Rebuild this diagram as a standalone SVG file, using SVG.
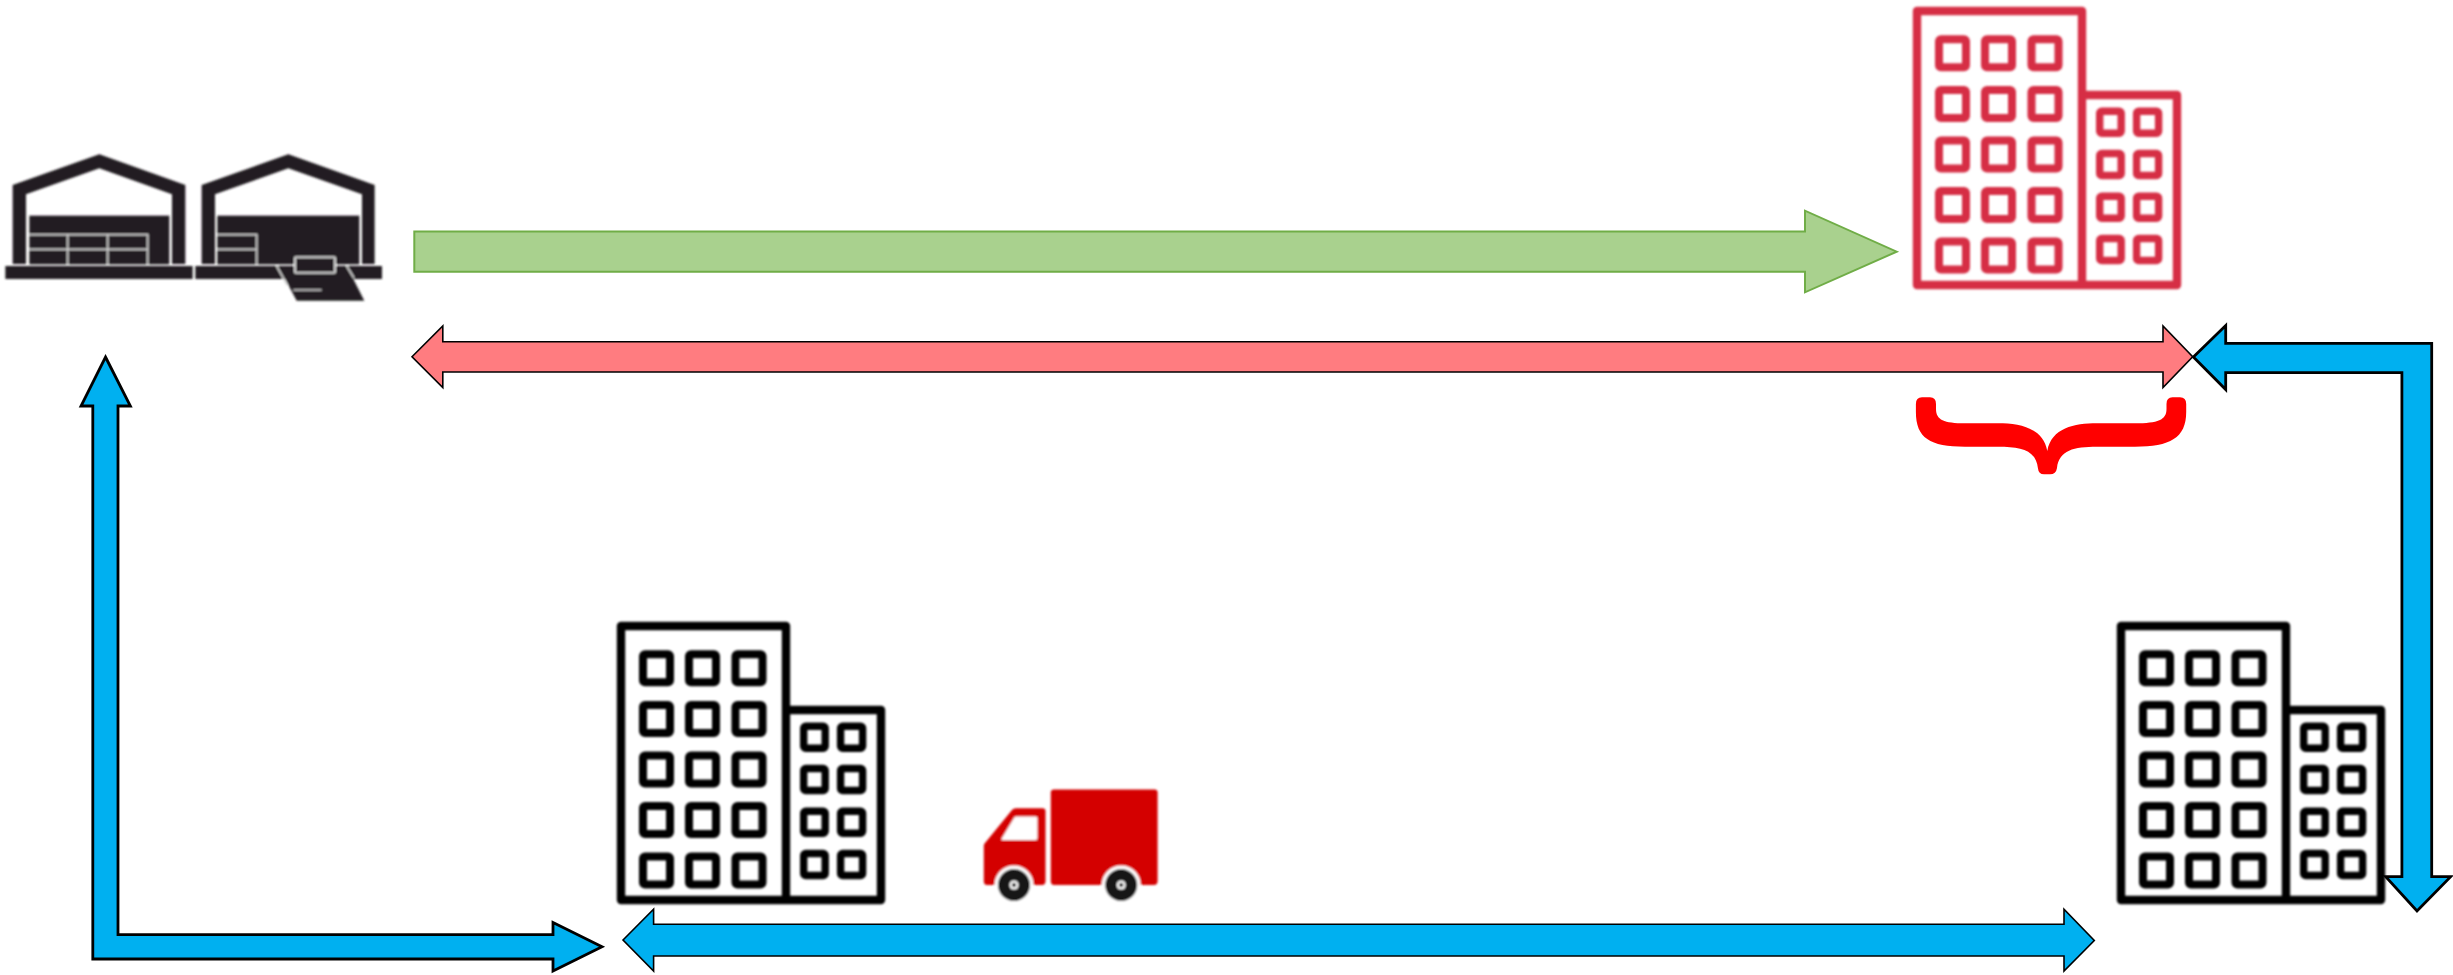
<svg xmlns="http://www.w3.org/2000/svg" width="2453" height="975" viewBox="0 0 2453 975">
<style>
.bl{fill:#00b0f0;stroke:#000;stroke-linejoin:miter}
.thick{stroke-width:2.800}
.thin{stroke-width:1.600}
.pink{fill:#ff7c80;stroke:#000;stroke-width:1.600}
.green{fill:#a9d18e;stroke:#70ad47;stroke-width:2}
.wh{fill:#231f20}
.wl{fill:none;stroke:#d4d4d4;stroke-width:5}
.b{fill:none;stroke:currentColor;stroke-linejoin:round}
.soft{filter:url(#soft)}
</style>
<defs>
<filter id="soft" x="-5%" y="-5%" width="110%" height="110%"><feGaussianBlur stdDeviation="0.900"/></filter>
<g id="bldg">
<path class="b" stroke-width="8.400" d="M4 4H169V278H4ZM169 88H264V278H169"/>
<g class="b" stroke-width="8">
<rect x="26" y="32.300" width="27" height="28" rx="2"/><rect x="72" y="32.300" width="27" height="28" rx="2"/><rect x="118.500" y="32.300" width="27" height="28" rx="2"/>
<rect x="26" y="83" width="27" height="28" rx="2"/><rect x="72" y="83" width="27" height="28" rx="2"/><rect x="118.500" y="83" width="27" height="28" rx="2"/>
<rect x="26" y="133.500" width="27" height="28" rx="2"/><rect x="72" y="133.500" width="27" height="28" rx="2"/><rect x="118.500" y="133.500" width="27" height="28" rx="2"/>
<rect x="26" y="184" width="27" height="28" rx="2"/><rect x="72" y="184" width="27" height="28" rx="2"/><rect x="118.500" y="184" width="27" height="28" rx="2"/>
<rect x="26" y="234.500" width="27" height="28" rx="2"/><rect x="72" y="234.500" width="27" height="28" rx="2"/><rect x="118.500" y="234.500" width="27" height="28" rx="2"/>
</g>
<g class="b" stroke-width="7.400">
<rect x="186.700" y="104.200" width="21.500" height="22" rx="2"/><rect x="223.600" y="104.200" width="22" height="22" rx="2"/>
<rect x="186.700" y="146.500" width="21.500" height="22" rx="2"/><rect x="223.600" y="146.500" width="22" height="22" rx="2"/>
<rect x="186.700" y="189.200" width="21.500" height="22" rx="2"/><rect x="223.600" y="189.200" width="22" height="22" rx="2"/>
<rect x="186.700" y="231.500" width="21.500" height="22" rx="2"/><rect x="223.600" y="231.500" width="22" height="22" rx="2"/>
</g>
</g>
</defs>
<rect width="2453" height="975" fill="#fff"/>
<g class="soft">
<g id="warehouses" transform="translate(0 140) scale(.33333)">
<g id="warehouse-left">
<path class="wh" d="M38 372V135L298 43 556 135V372H516V163L298 85 78 163V372Z"/>
<rect class="wh" x="88" y="227" width="420" height="146"/>
<rect class="wh" x="16" y="378" width="562" height="39"/>
<path class="wl" d="M88 284H443V372M88 328H443M203 284V372M323 284V372"/>
</g>
<g id="warehouse-right">
<path class="wh" d="M605 372V135L865 43 1124 135V372H1086V163L865 85 645 163V372Z"/>
<rect class="wh" x="652" y="227" width="426" height="146"/>
<rect class="wh" x="586" y="378" width="560" height="39"/>
<path class="wh" d="M835 378L890 482H1093L1040 378Z"/>
<path class="wl" d="M652 284H770V372M652 328H770M830 378L862 436M1040 378L1062 414M880 450H965"/>
<rect x="885" y="352" width="120" height="46" fill="#231f20" stroke="#d4d4d4" stroke-width="6" rx="2"/>
</g>
</g>
</g>
<g id="building-red" class="soft" color="#d62d45"><use href="#bldg" transform="translate(1913 7)"/></g>
<g id="building-left" class="soft" color="#000"><use href="#bldg" transform="translate(617 622)"/></g>
<g id="building-right" class="soft" color="#000"><use href="#bldg" transform="translate(2117 622)"/></g>
<g id="truck" class="soft">
<path fill="#d40000" d="M1054 789.400H1154.600Q1157.600 789.400 1157.600 792.400V881Q1157.600 885 1154 885H1054Q1050.800 885 1050.800 881V792.400Q1050.800 789.400 1054 789.400Z"/>
<path fill="#d40000" d="M1012 810Q1013.300 808.300 1016 808.300H1042.500Q1045.500 808.300 1045.500 811V881Q1045.500 885 1042 885H987Q983.800 885 983.800 881V846Q983.800 844 985 843Z"/>
<path fill="#fff" d="M1016 816.600H1035.500Q1037.400 816.600 1037.400 818.600V838Q1037.400 840 1035.500 840H1002.500Q1000.500 840 1002 838L1014 818Q1015 816.600 1016 816.600Z"/>
<circle cx="1014" cy="885" r="19.500" fill="#fff"/>
<circle cx="1121.200" cy="885" r="19.500" fill="#fff"/>
<circle cx="1014" cy="885" r="16" fill="#151515"/><circle cx="1014" cy="885" r="4.500" fill="#fff"/><circle cx="1014" cy="885" r="2.200" fill="#151515"/>
<circle cx="1121.200" cy="885" r="16" fill="#151515"/><circle cx="1121.200" cy="885" r="4.500" fill="#fff"/><circle cx="1121.200" cy="885" r="2.200" fill="#151515"/>
</g>
<g id="brace">
<path fill="#f00" d="M1915.900 404Q1915.900 397.300 1922 397.300H1930Q1936 397.300 1936 404V409C1936 420 1944 423.300 1965 423.300H1998C2020 423.300 2043 428 2047.300 451C2051.600 428 2074 423.300 2097 423.300H2135C2158 423.300 2166.500 420 2166.500 409V404Q2166.500 397.300 2172.500 397.300H2180Q2186.200 397.300 2186.200 404V412C2186.200 438 2170 446.700 2135 446.700H2097C2074 446.700 2059 450 2057 468Q2056 474.300 2050 474.300H2044Q2038.500 474.300 2037.900 468C2036 450 2021 446.700 1998 446.700H1965C1930 446.700 1915.900 438 1915.900 412Z"/>
</g>
<g id="connectors">
<path class="green" d="M414.300 231.500H1805V210.700L1896.700 251.700 1805 292.300V271.700H414.300Z"/>
<path class="pink" d="M412 356.800L442.800 326V341.700H2163V326L2192.700 356.800 2163 387.600V372H442.800V387.600Z"/>
<path class="bl thick" d="M2193.400 357L2225.700 325.500V343.300H2431.700V876.700H2450.700L2417 911 2385.700 876.700H2401.900V372.700H2225.700V389.500Z"/>
<path class="bl thick" d="M105.500 357L130.400 406H118V934.600H553V922.400L602 946.700 553 971V959H92.800V406H81Z"/>
<path class="bl thin" d="M623 940L653.600 909.300V924.300H2064V909.300L2094.300 940.500 2064 971V956H653.600V971Z"/>
</g>
</svg>
